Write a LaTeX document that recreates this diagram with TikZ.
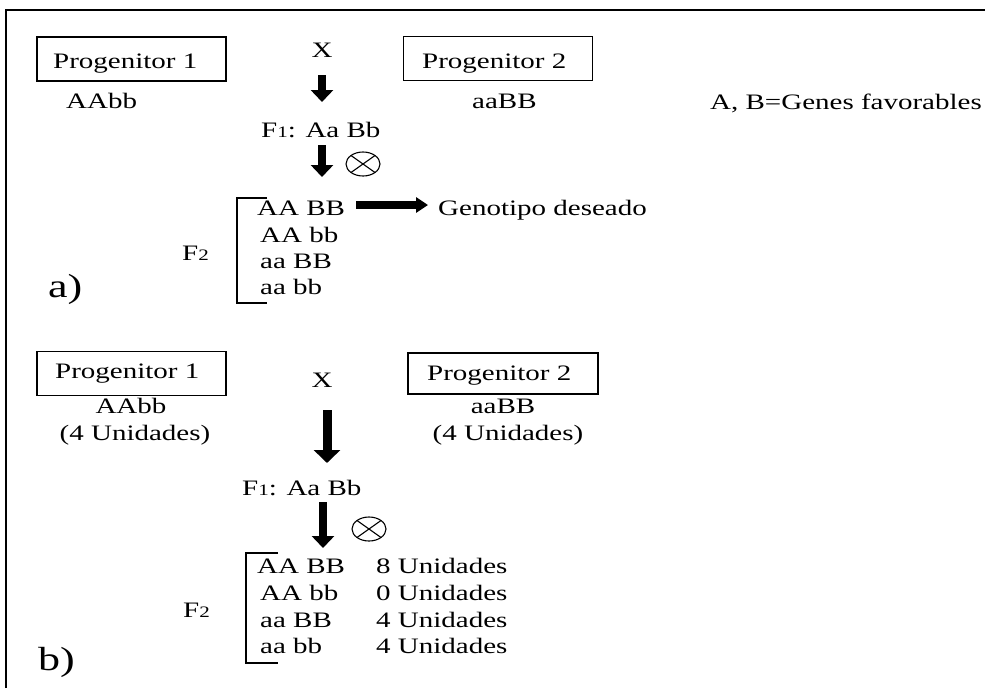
\documentclass[tikz,border=0pt]{standalone}
\usepackage{fontspec}
\setmainfont{Liberation Serif}
\usetikzlibrary{arrows.meta}
\newcommand\sq[1]{\scalebox{1}[0.76]{#1}}
\newcommand\subnum[1]{\raisebox{-1pt}{\fontsize{21}{21}\selectfont #1}}
\begin{document}
\begin{tikzpicture}[x=1pt,y=-1pt,
  lbl/.style={inner sep=0pt, font=\fontsize{29}{31}\selectfont},
  big/.style={inner sep=0pt, font=\fontsize{44}{46}\selectfont},
  pbox/.style={draw, line width=1.3pt, minimum width=189pt, minimum height=44pt, inner sep=0pt},
  fatA/.style={line width=8pt, -{Triangle[width=22pt,length=12pt]}},
  fatB/.style={line width=9pt, -{Triangle[width=26pt,length=13pt]}},
  fatH/.style={line width=7.5pt, -{Triangle[width=15pt,length=12pt]}},
  brk/.style={line width=2.5pt},
  frm/.style={line width=2pt},
  otim/.style={line width=1.1pt}]
\useasboundingbox (0,0) rectangle (985,688);
\clip (0,0) rectangle (985,688);
% frame
\draw[frm] (6,688) -- (6,10) -- (985,10);

% ---------------- part a ----------------
\node[pbox] (p1a) at (131.5,59) {};
\node[lbl, anchor=base west] (p1at) at (53,68) {\sq{Progenitor 1}};
\node[pbox] (p2a) at (498,58.5) {};
\node[lbl, anchor=base west] (p2at) at (422,68) {\sq{Progenitor 2}};
\node[lbl, anchor=base west] (g1a) at (66,108) {\sq{AAbb}};
\node[lbl, anchor=base west] (g2a) at (472,108) {\sq{aaBB}};
\node[lbl, anchor=base east] (fav) at (982,109) {\sq{A, B=Genes favorables}};
\node[lbl, anchor=base] (xa) at (322,57) {\sq{X}};
\node[lbl, anchor=base west] (f1a) at (261,137) {\sq{F\subnum{1}: Aa Bb}};
\coordinate (a1s) at (322,75);
\coordinate (a1e) at (322,102);
\coordinate (a2s) at (322,145);
\coordinate (a2e) at (322,177);
\draw[fatA] (a1s) -- (a1e);
\draw[fatA] (a2s) -- (a2e);
\coordinate (oa) at (363,164);
\draw[otim] (oa) ellipse [x radius=17, y radius=12];
\draw[otim] ([shift={(-12,-8.5)}]oa) -- ([shift={(12,8.5)}]oa);
\draw[otim] ([shift={(-12,8.5)}]oa) -- ([shift={(12,-8.5)}]oa);
\node[lbl, anchor=base west] (f2a) at (182,260) {\sq{F\subnum{2}}};
\draw[brk] (267,198) -- (237,198) -- (237,303) -- (267,303);
\node[lbl, anchor=base west] (ra1) at (257,215) {\sq{AA BB}};
\node[lbl, anchor=base west] (ra2) at (260,242) {\sq{AA bb}};
\node[lbl, anchor=base west] (ra3) at (260,268) {\sq{aa BB}};
\node[lbl, anchor=base west] (ra4) at (260,294) {\sq{aa bb}};
\node[lbl, anchor=base west] (gd) at (438,215) {\sq{Genotipo deseado}};
\coordinate (hs) at (356,205);
\coordinate (he) at (428,205);
\draw[fatH] (hs) -- (he);
\node[big, anchor=base west] (la) at (48,297) {\sq{a)}};

% ---------------- part b ----------------
\node[pbox] (p1b) at (131.5,373.5) {};
\node[lbl, anchor=base west] (p1bt) at (55,378) {\sq{Progenitor 1}};
\node[pbox, minimum width=190pt, minimum height=41pt] (p2b) at (503,373.5) {};
\node[lbl, anchor=base west] (p2bt) at (427,380) {\sq{Progenitor 2}};
\node[lbl, anchor=base] (g1b) at (131,413) {\sq{AAbb}};
\node[lbl, anchor=base] (u1b) at (135,440) {\sq{(4 Unidades)}};
\node[lbl, anchor=base] (g2b) at (503,413) {\sq{aaBB}};
\node[lbl, anchor=base] (u2b) at (508,440) {\sq{(4 Unidades)}};
\node[lbl, anchor=base] (xb) at (322,387) {\sq{X}};
\node[lbl, anchor=base west] (f1b) at (242,495) {\sq{F\subnum{1}: Aa Bb}};
\coordinate (b1s) at (327,410);
\coordinate (b1e) at (327,463);
\coordinate (b2s) at (323,502);
\coordinate (b2e) at (323,548);
\draw[fatB] (b1s) -- (b1e);
\draw[fatA] (b2s) -- (b2e);
\coordinate (ob) at (369,529);
\draw[otim] (ob) ellipse [x radius=17, y radius=12];
\draw[otim] ([shift={(-12,-8.5)}]ob) -- ([shift={(12,8.5)}]ob);
\draw[otim] ([shift={(-12,8.5)}]ob) -- ([shift={(12,-8.5)}]ob);
\node[lbl, anchor=base west] (f2b) at (183,617) {\sq{F\subnum{2}}};
\draw[brk] (278,553) -- (246,553) -- (246,663) -- (278,663);
\node[lbl, anchor=base west] (rb1) at (257,573) {\sq{AA BB}};
\node[lbl, anchor=base west] (rb2) at (260,600) {\sq{AA bb}};
\node[lbl, anchor=base west] (rb3) at (260,627) {\sq{aa BB}};
\node[lbl, anchor=base west] (rb4) at (260,653) {\sq{aa bb}};
\node[lbl, anchor=base west] (ub1) at (376,573) {\sq{8 Unidades}};
\node[lbl, anchor=base west] (ub2) at (376,600) {\sq{0 Unidades}};
\node[lbl, anchor=base west] (ub3) at (376,627) {\sq{4 Unidades}};
\node[lbl, anchor=base west] (ub4) at (376,653) {\sq{4 Unidades}};
\node[big, anchor=base west] (lb) at (38,670) {\sq{b)}};
\end{tikzpicture}
\end{document}
